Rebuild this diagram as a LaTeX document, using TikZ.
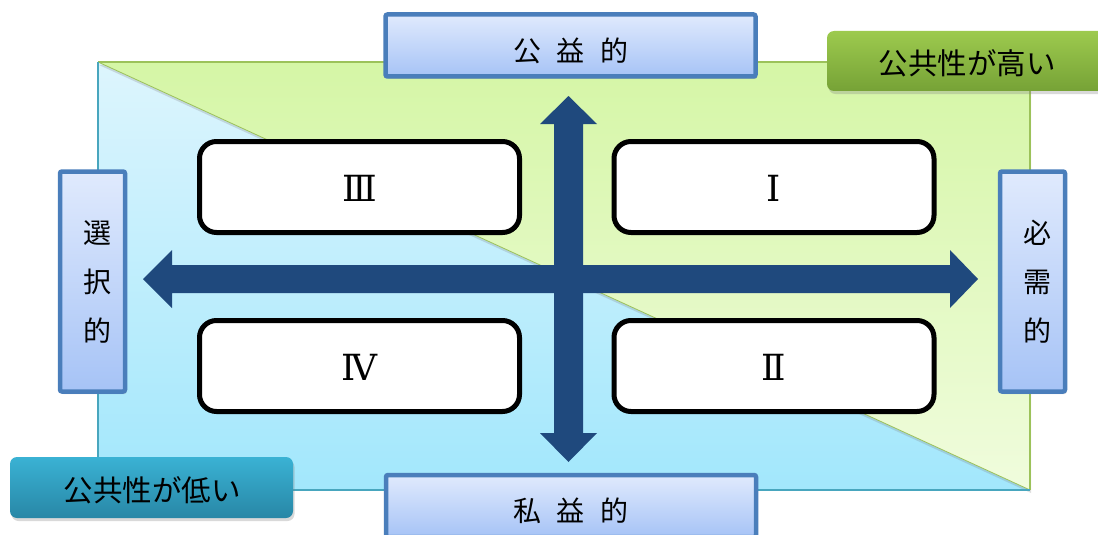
\documentclass[tikz,border=0pt]{standalone}
\usepackage{fontspec}
\newfontfamily\jp{Noto Sans CJK JP}
\newfontfamily\numfont{DejaVu Serif}
\usetikzlibrary{shadows,shadings}
\definecolor{arrowblue}{HTML}{1F497D}
\definecolor{boxblue}{HTML}{4A7EBB}
\definecolor{lblueA}{HTML}{E0EAFD}
\definecolor{lblueB}{HTML}{A6C3F6}
\definecolor{greenA}{HTML}{9DCA4E}
\definecolor{greenB}{HTML}{76A236}
\definecolor{tealA}{HTML}{3AB2D4}
\definecolor{tealB}{HTML}{2887A6}
\definecolor{skyA}{HTML}{DDF5FD}
\definecolor{skyB}{HTML}{A2E7FC}
\definecolor{limeA}{HTML}{D5F6A6}
\definecolor{limeB}{HTML}{F0FCDD}
\definecolor{limeEdge}{HTML}{9CC25A}
\definecolor{skyEdge}{HTML}{48A6BE}
\tikzset{
  labelbox/.style={draw=boxblue, line width=4.5pt, top color=lblueA, bottom color=lblueB,
    rounded corners=2pt, inner sep=0pt,
    drop shadow={shadow xshift=1.5pt, shadow yshift=-2.5pt, opacity=0.3}},
  tagbox/.style={rounded corners=7pt, inner sep=0pt,
    drop shadow={shadow xshift=1.5pt, shadow yshift=-3pt, opacity=0.3}},
  quadbox/.style={draw=black, line width=5pt, fill=white, rounded corners=17pt,
    inner sep=0pt, minimum width=320pt, minimum height=91pt},
  jptext/.style={font=\jp\fontsize{28pt}{28pt}\selectfont, text=black, inner sep=0pt},
  tagtext/.style={font=\jp\fontsize{29.5pt}{29.5pt}\selectfont, text=black, inner sep=0pt},
  numtext/.style={font=\numfont\fontsize{36pt}{36pt}\selectfont, text=black, inner sep=0pt},
}
\begin{document}
\begin{tikzpicture}[x=1pt,y=-1pt]
\useasboundingbox (0,0) rectangle (1098,535);
\clip (0,0) rectangle (1098,535);
% background quadrant field
\shade[top color=skyA, bottom color=skyB] (98,62) -- (1030,490) -- (98,490) -- cycle;
\shade[top color=limeA, bottom color=limeB,
  drop shadow={shadow xshift=1pt, shadow yshift=-3pt, opacity=0.25}]
  (98,62) -- (1030,62) -- (1030,490) -- cycle;
\draw[limeEdge, line width=1.2pt] (98,62) -- (1030,62) -- (1030,490);
\draw[limeEdge, line width=0.8pt] (98,62) -- (1030,490);
\draw[skyEdge, line width=1.2pt] (98,62) -- (98,490) -- (1030,490);
% quadrant boxes
\node[quadbox] (q3) at (359.5,187) {};
\node[quadbox] (q1) at (774,187) {};
\node[quadbox] (q4) at (359.5,366) {};
\node[quadbox] (q2) at (774,366) {};
\node[numtext] (n3) at (359.5,188) {Ⅲ};
\node[numtext] (n1) at (774,188) {Ⅰ};
\node[numtext] (n4) at (359.5,367) {Ⅳ};
\node[numtext] (n2) at (774,367) {Ⅱ};
% axes
\fill[arrowblue] (143,279) -- (172,250) -- (172,265) -- (950,265) -- (950,250) -- (978,279)
  -- (950,308) -- (950,293) -- (172,293) -- (172,308) -- cycle;
\fill[arrowblue] (568.5,96) -- (597,124) -- (583,124) -- (583,433) -- (597,433) -- (568.5,462)
  -- (540,433) -- (554,433) -- (554,124) -- (540,124) -- cycle;
% axis labels
\node[labelbox, minimum width=370pt, minimum height=62pt] (top) at (570.5,45.5) {};
\node[jptext] (toptxt) at (571,51) {\spaceskip=16pt 公 益 的};
\node[labelbox, minimum width=370pt, minimum height=62pt] (bot) at (571,506) {};
\node[jptext] (bottxt) at (571,511) {\spaceskip=16pt 私 益 的};
\node[labelbox, minimum width=65pt, minimum height=220pt] (left) at (92.5,281.5) {};
\node[jptext, align=center, font=\jp\fontsize{28pt}{49pt}\selectfont] (lefttxt) at (97,282) {選\\択\\的};
\node[labelbox, minimum width=65pt, minimum height=220pt] (right) at (1032.5,281.5) {};
\node[jptext, align=center, font=\jp\fontsize{28pt}{49pt}\selectfont] (righttxt) at (1037,282) {必\\需\\的};
% public-ness tags
\node[tagbox, top color=greenA, bottom color=greenB, minimum width=280pt, minimum height=60pt] (high) at (967,61) {};
\node[tagtext] (hightxt) at (967,63) {公共性が高い};
\node[tagbox, top color=tealA, bottom color=tealB, minimum width=283pt, minimum height=61pt] (low) at (151.5,487.5) {};
\node[tagtext] (lowtxt) at (152,490) {公共性が低い};
\end{tikzpicture}
\end{document}
